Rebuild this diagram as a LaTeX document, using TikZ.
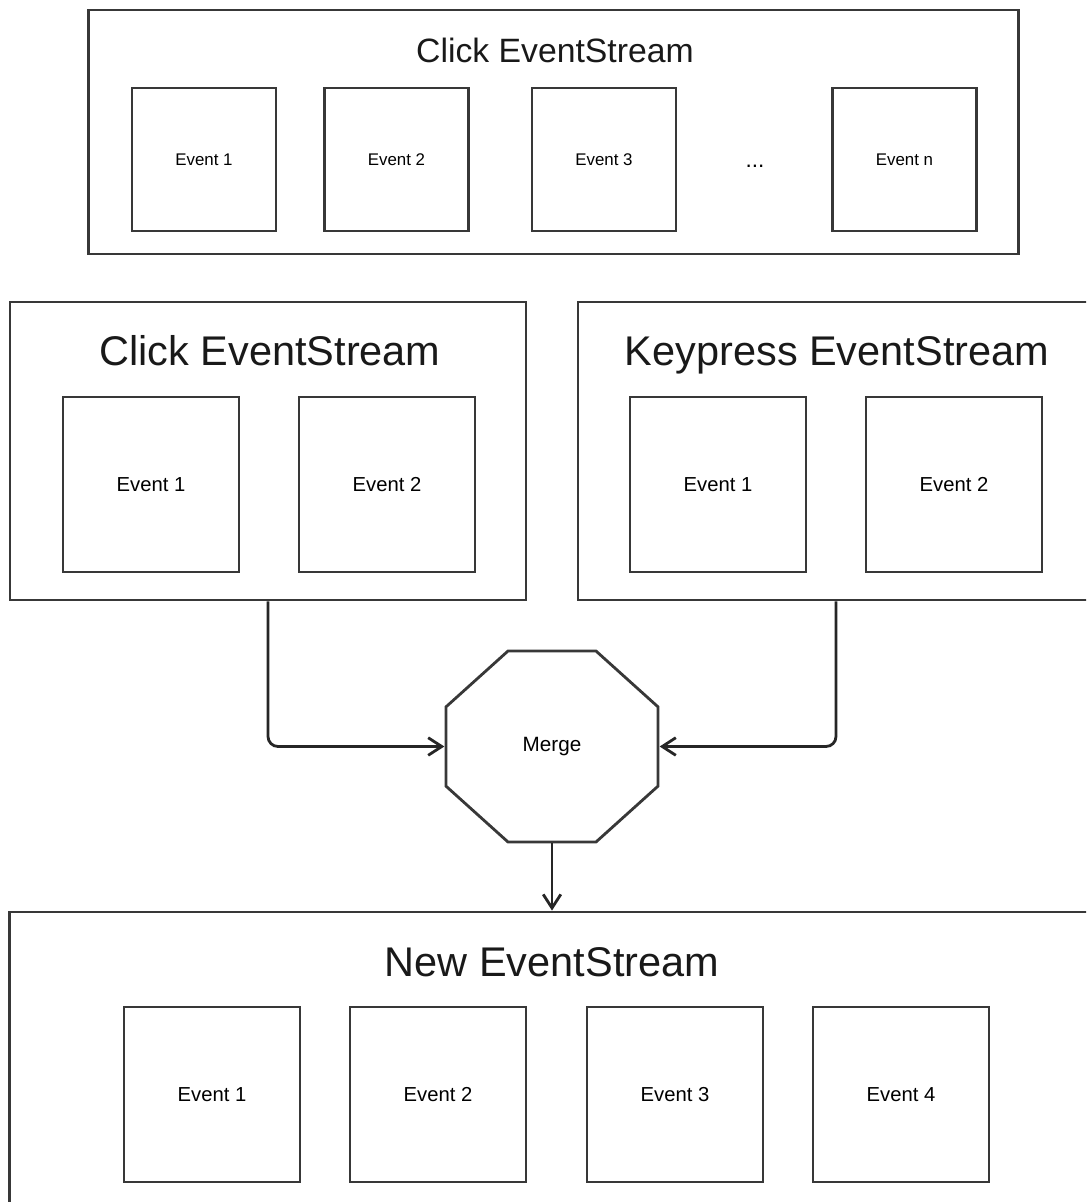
\documentclass[tikz,border=0pt]{standalone}
\usepackage{fontspec}
\setmainfont{Liberation Sans}
\usetikzlibrary{shapes.geometric,arrows.meta}
\tikzset{
  stream/.style={draw=black!78, line width=2pt, inner sep=0pt},
  smallevent/.style={stream, minimum width=3.6cm, minimum height=3.575cm, font=\fontsize{12}{14}\selectfont},
  bigevent/.style={stream, minimum width=4.4cm, minimum height=4.375cm, font=\fontsize{14.4}{17}\selectfont},
  smalltitle/.style={font=\fontsize{24}{28}\selectfont, text=black!90},
  bigtitle/.style={font=\fontsize{29.5}{34}\selectfont, text=black!90, text height=0.75em, text depth=0.2em},
  flow/.style={line width=2pt, draw=black!85, rounded corners=0.25cm, -{Straight Barb[length=0.34cm,width=0.44cm,line width=2pt]}}
}
\begin{document}
\begin{tikzpicture}[x=0.025cm,y=-0.025cm]
\useasboundingbox (0,0) rectangle (1086,1202);
\clip (0,0) rectangle (1086,1202);
% single stream
\node[stream, minimum width=23.225cm, minimum height=6.1cm] (single) at (553.5,132) {};
\node[smalltitle] (singletitle) at (555,50) {Click EventStream};
\foreach \x/\t [count=\i] in {204/1,396.5/2,604/3,904.5/n}
  \node[smallevent] (single\i) at (\x,159.5) {Event \t};
\node[font=\fontsize{16}{18}\selectfont] (dots) at (755,166) {...};
% the two streams
\node[stream, minimum width=12.9cm, minimum height=7.45cm] (click) at (268,451) {};
\node[bigtitle] (clicktitle) at (270,362) {Click EventStream};
\node[stream, minimum width=12.9cm, minimum height=7.45cm] (key) at (836,451) {};
\node[bigtitle] (keytitle) at (837,362) {Keypress EventStream};
\foreach \x/\t [count=\i] in {151/1,387/2}
  \node[bigevent] (click\i) at (\x,484.5) {Event \t};
\foreach \x/\t [count=\i] in {718/1,954/2}
  \node[bigevent] (key\i) at (\x,484.5) {Event \t};
% merge
\node[stream, regular polygon, regular polygon sides=8, minimum size=5.17cm,
  xscale=1.11, transform shape] (merge) at (552,746.5) {};
\node[font=\fontsize{14.7}{17}\selectfont] (mergetext) at (merge.center) {Merge};
\draw[flow] (click.south) |- (merge.west);
\draw[flow] (key.south) |- (merge.east);
% result
\node[stream, minimum width=27.1cm, minimum height=7.45cm] (new) at (552,1061) {};
\node[bigtitle] (newtitle) at (552,973) {New EventStream};
\foreach \x/\t [count=\i] in {212/1,438/2,675/3,901/4}
  \node[bigevent] (new\i) at (\x,1094.5) {Event \t};
\draw[flow] (merge.south) -- (new.north);
\end{tikzpicture}
\end{document}
